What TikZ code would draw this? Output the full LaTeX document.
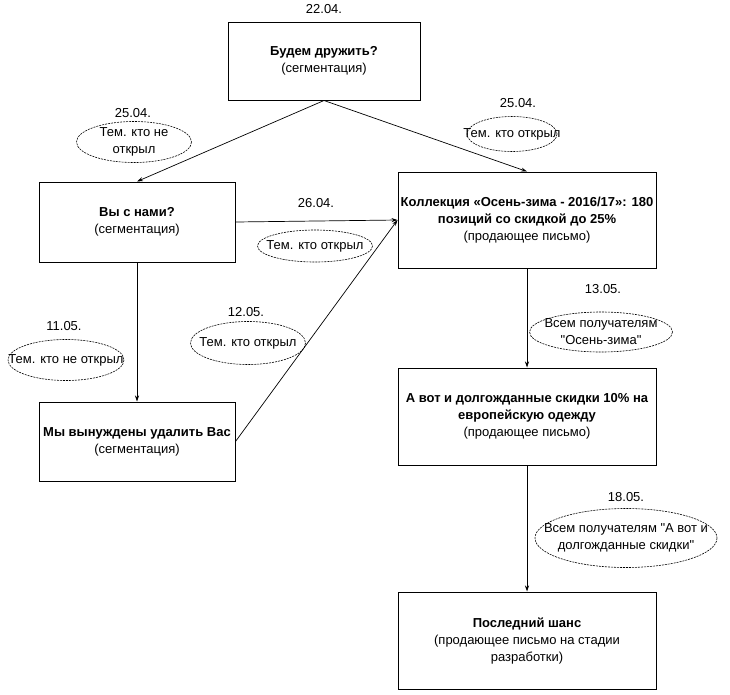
\documentclass[tikz,border=0pt]{standalone}
\usepackage{fontspec}
\setmainfont{Liberation Sans}
\newfontfamily\qf{Liberation Sans}
\usetikzlibrary{shapes.geometric,arrows.meta}
\begin{document}
\begin{tikzpicture}[x=1pt,y=-1pt,
  font=\fontsize{13}{17}\selectfont,
  box/.style={draw,line width=1pt,align=center,inner sep=0pt},
  ovaltext/.style={align=center,inner sep=0pt},
  ovalline/.style={line width=0.6pt,dash pattern=on 2pt off 1pt},
  datelabel/.style={inner sep=0pt},
  arr/.style={line width=0.7pt,-{Stealth[length=6pt,width=4pt]}}]
\useasboundingbox (0,0) rectangle (730,694);
% boxes
\node[box,minimum width=192pt,minimum height=78pt] (b1) at (324,61) {\textbf{Будем дружить?}\\(сегментация)};
\node[box,minimum width=196pt,minimum height=80pt] (b2) at (137,222) {\textbf{Вы с нами?}\\(сегментация)};
\node[box,minimum width=258pt,minimum height=96pt] (b3) at (527,220) {\textbf{Коллекция «Осень-зима - 2016/17»: 180}\\\textbf{позиций со скидкой до 25\%}\\(продающее письмо)};
\node[box,minimum width=196pt,minimum height=79pt] (b4) at (137,441.5) {\textbf{Мы вынуждены удалить Вас}\\(сегментация)};
\node[box,minimum width=258pt,minimum height=97pt] (b5) at (527,416.5) {\textbf{А вот и долгожданные скидки 10\% на}\\\textbf{европейскую одежду}\\(продающее письмо)};
\node[box,minimum width=258pt,minimum height=97pt] (b6) at (527,640.5) {\textbf{Последний шанс}\\(продающее письмо на стадии\\разработки)};
% ovals
\node[ovaltext] (o1) at (134,142) {Тем. кто не\\открыл};
\draw[ovalline] (o1.center) ellipse [x radius=57.5, y radius=20.5];
\node[ovaltext] (o2) at (512,134) {Тем. кто открыл};
\draw[ovalline] (o2.center) ellipse [x radius=45, y radius=17.5];
\node[ovaltext] (o3) at (315,246) {Тем. кто открыл};
\draw[ovalline] (o3.center) ellipse [x radius=57.5, y radius=16];
\node[ovaltext] (o4) at (66,360) {Тем. кто не открыл};
\draw[ovalline] (o4.center) ellipse [x radius=58, y radius=20.5];
\node[ovaltext] (o5) at (248,343) {Тем. кто открыл};
\draw[ovalline] (o5.center) ellipse [x radius=57.5, y radius=21.5];
\node[ovaltext] (o6) at (601,332) {Всем получателям\\{\qf"}Осень-зима{\qf"}};
\draw[ovalline] (o6.center) ellipse [x radius=71.5, y radius=20];
\node[ovaltext] (o7) at (626,538) {Всем получателям {\qf"}А вот и\\долгожданные скидки{\qf"}};
\draw[ovalline] (o7.center) ellipse [x radius=91, y radius=29.5];
% dates
\node[datelabel] (d1) at (324,9) {22.04.};
\node[datelabel] (d2) at (133,113) {25.04.};
\node[datelabel] (d3) at (518,103) {25.04.};
\node[datelabel] (d4) at (316,203) {26.04.};
\node[datelabel] (d5) at (64,326) {11.05.};
\node[datelabel] (d6) at (246,312) {12.05.};
\node[datelabel] (d7) at (603,289) {13.05.};
\node[datelabel] (d8) at (626,497) {18.05.};
% connectors
\draw[arr] (b1.south) -- (b2.north);
\draw[arr] (b1.south) -- (b3.north);
\draw[arr] (b2.east) -- (b3.west);
\draw[arr] (b4.east) -- (b3.west);
\draw[arr] (b2.south) -- (b4.north);
\draw[arr] (b3.south) -- (b5.north);
\draw[arr] (b5.south) -- (b6.north);
\end{tikzpicture}
\end{document}
